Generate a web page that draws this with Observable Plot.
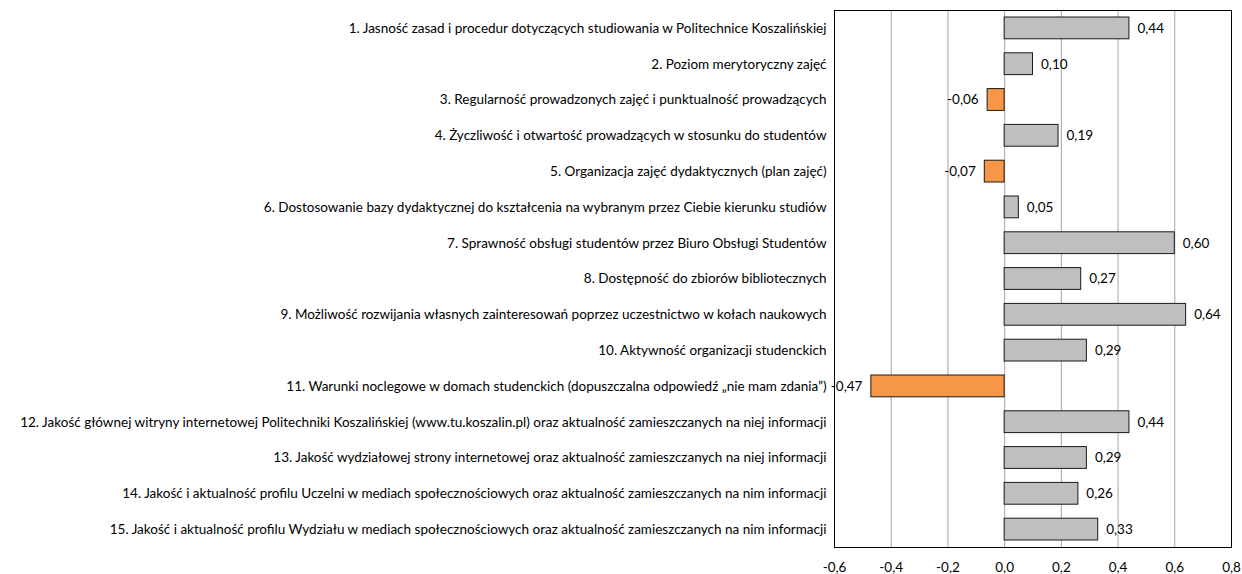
<!DOCTYPE html>
<html><head><meta charset="utf-8">
<script src="https://cdn.jsdelivr.net/npm/d3@7"></script>
<script src="https://cdn.jsdelivr.net/npm/@observablehq/plot@0.6"></script>
<style>body{margin:0;background:#fff;} </style>
</head><body><div id="chart"></div>
<script>
const categories = [
  "1. Jasność zasad i procedur dotyczących studiowania w Politechnice Koszalińskiej",
  "2. Poziom merytoryczny zajęć",
  "3. Regularność prowadzonych zajęć i punktualność prowadzących",
  "4. Życzliwość i otwartość prowadzących w stosunku do studentów",
  "5. Organizacja zajęć dydaktycznych (plan zajęć)",
  "6. Dostosowanie bazy dydaktycznej do kształcenia na wybranym przez Ciebie kierunku studiów",
  "7. Sprawność obsługi studentów przez Biuro Obsługi Studentów",
  "8. Dostępność do zbiorów bibliotecznych",
  "9. Możliwość rozwijania własnych zainteresowań poprzez uczestnictwo w kołach naukowych",
  "10. Aktywność organizacji studenckich",
  "11. Warunki noclegowe w domach studenckich (dopuszczalna odpowiedź „nie mam zdania”)",
  "12. Jakość głównej witryny internetowej Politechniki Koszalińskiej (www.tu.koszalin.pl) oraz aktualność zamieszczanych na niej informacji",
  "13. Jakość wydziałowej strony internetowej oraz aktualność zamieszczanych na niej informacji",
  "14. Jakość i aktualność profilu Uczelni w mediach społecznościowych oraz aktualność zamieszczanych na nim informacji",
  "15. Jakość i aktualność profilu Wydziału w mediach społecznościowych oraz aktualność zamieszczanych na nim informacji"
];
const values = [0.44, 0.10, -0.06, 0.19, -0.07, 0.05, 0.60, 0.27, 0.64, 0.29, -0.47, 0.44, 0.29, 0.26, 0.33];
const xTicks = [-0.6, -0.4, -0.2, 0, 0.2, 0.4, 0.6, 0.8];

const data = categories.map((c, i) => ({cat: c, v: values[i]}));
const fmt = d => d.toFixed(2).replace(".", ",");
const fmt1 = d => d.toFixed(1).replace(".", ",");
const FS = 13.5;

const chart = Plot.plot({
  width: 1242,
  height: 574,
  marginLeft: 834,
  marginRight: 11,
  marginTop: 10,
  marginBottom: 27,
  style: {fontFamily: "Lato, 'Open Sans', sans-serif", fontSize: FS + "px", color: "#000", background: "#fff"},
  x: {domain: [-0.6, 0.8], ticks: xTicks, tickFormat: fmt1, label: null},
  y: {domain: categories, padding: 0, round: false, label: null},
  marks: [
    Plot.gridX(xTicks, {stroke: "#a6a6a6", strokeOpacity: 1, strokeWidth: 1}),
    Plot.barX(data, {x: "v", y: "cat", insetTop: 7, insetBottom: 7, fill: d => d.v < 0 ? "#f79646" : "#bfbfbf", stroke: "#1a1a1a", strokeWidth: 1}),
    Plot.text(data, {x: "v", y: "cat", text: d => fmt(d.v), textAnchor: "start", filter: d => d.v >= 0, dx: 8, fontSize: FS, fill: "#000"}),
    Plot.text(data, {x: "v", y: "cat", text: d => fmt(d.v), textAnchor: "end", filter: d => d.v < 0, dx: -9, fontSize: FS, fill: "#000"}),
    Plot.frame({stroke: "#000", strokeWidth: 1}),
    Plot.axisX({ticks: xTicks, tickFormat: fmt1, tickSize: 0, tickPadding: 15, fontSize: FS}),
    Plot.axisY({tickSize: 0, tickPadding: 8, fontSize: FS, textAnchor: "end"})
  ]
});
document.getElementById("chart").appendChild(chart);
</script>
</body></html>
